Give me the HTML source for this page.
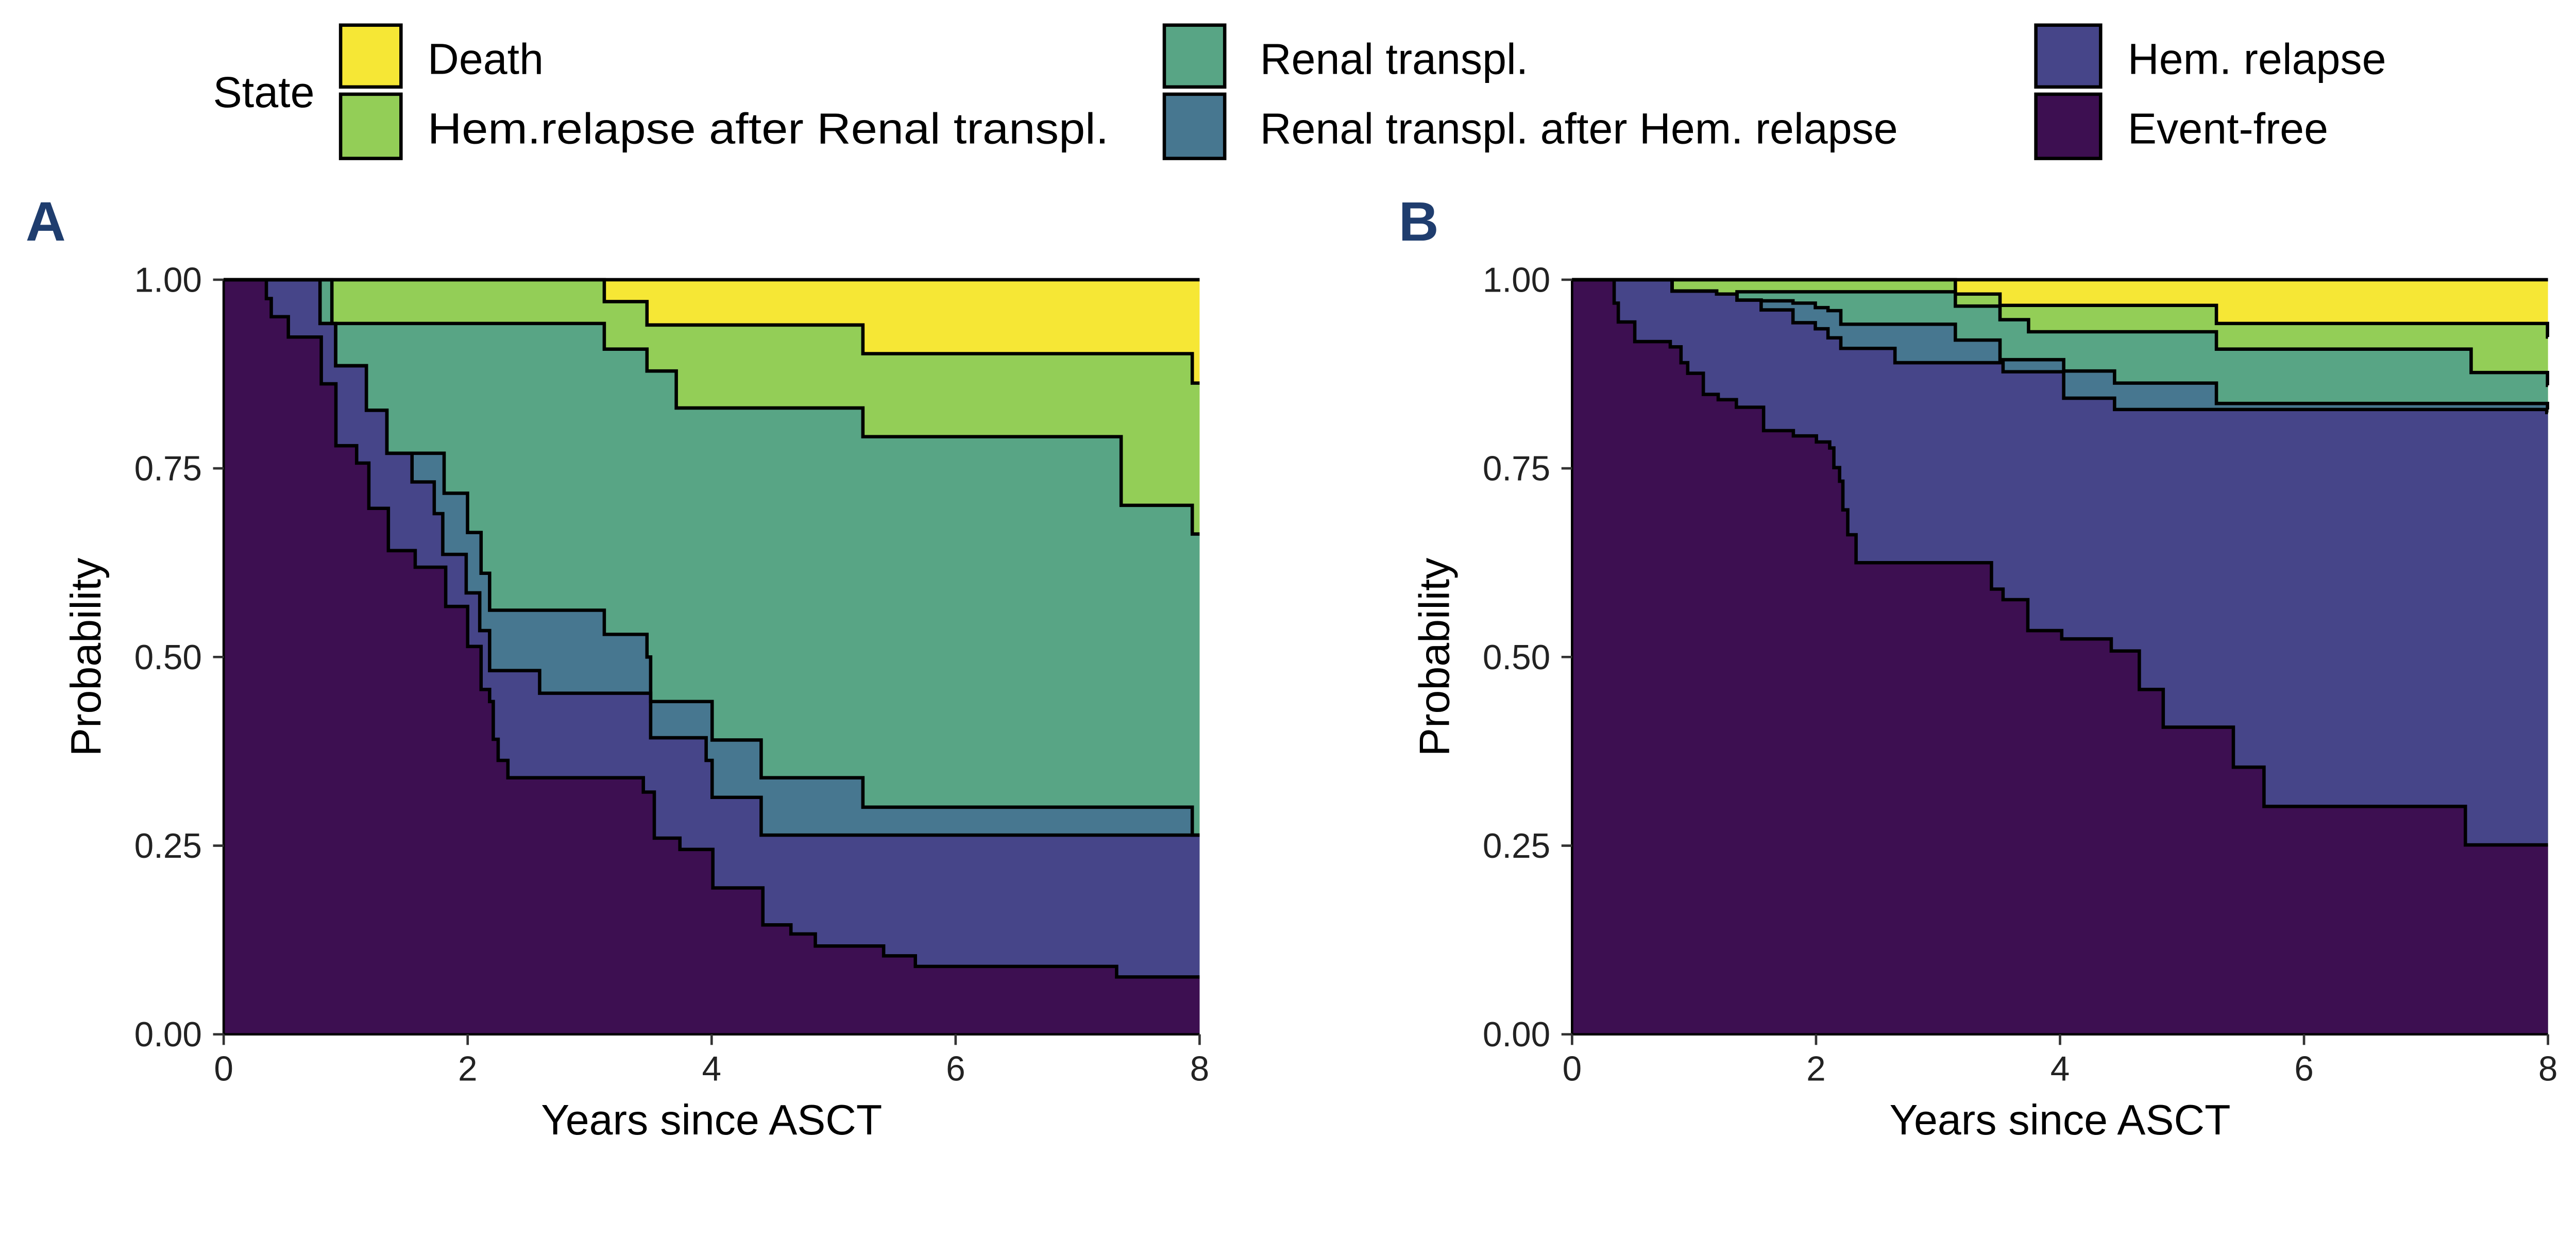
<!DOCTYPE html>
<html><head><meta charset="utf-8"><style>
html,body{margin:0;padding:0;background:#fff;overflow:hidden;}
svg{display:block;width:100vw;height:45.1050vw;}
text{font-family:"Liberation Sans",sans-serif;}
</style></head><body>
<svg id="fig" viewBox="0 0 5332 2405" preserveAspectRatio="xMinYMin meet" xmlns="http://www.w3.org/2000/svg">
<g id="legend">
<text x="441" y="222" font-size="90" fill="#000">State</text>
<g><rect x="705" y="52" width="125" height="128" fill="#f6e735" stroke="#000" stroke-width="7"/><text x="885" y="153" font-size="90">Death</text></g>
<g><rect x="705" y="195" width="125" height="133" fill="#93ce57" stroke="#000" stroke-width="7"/><text x="885" y="297" font-size="90" textLength="1410" lengthAdjust="spacingAndGlyphs">Hem.relapse after Renal transpl.</text></g>
<g><rect x="2410" y="52" width="125" height="128" fill="#58a585" stroke="#000" stroke-width="7"/><text x="2608" y="153" font-size="90">Renal transpl.</text></g>
<g><rect x="2410" y="195" width="125" height="133" fill="#477790" stroke="#000" stroke-width="7"/><text x="2608" y="297" font-size="90">Renal transpl. after Hem. relapse</text></g>
<g><rect x="4214" y="52" width="134" height="128" fill="#464589" stroke="#000" stroke-width="7"/><text x="4404" y="153" font-size="90">Hem. relapse</text></g>
<g><rect x="4214" y="195" width="134" height="133" fill="#3d0f51" stroke="#000" stroke-width="7"/><text x="4404" y="297" font-size="90">Event-free</text></g>
</g>
</svg>
<script>
// Panel A cumulative stacked boundaries (step functions: times & probabilities)
const A_t1 = [0,0.35,0.39,0.53,0.80,0.92,1.09,1.19,1.35,1.57,1.82,2.0,2.11,2.18,2.21,2.25,2.33,3.44,3.53,3.74,4.01,4.42,4.65,4.85,5.41,5.67,7.32];
const A_p1 = [1,0.975,0.951,0.924,0.862,0.78,0.757,0.697,0.641,0.619,0.567,0.514,0.457,0.441,0.391,0.363,0.34,0.321,0.26,0.245,0.194,0.145,0.133,0.117,0.104,0.09,0.076];
const A_t2 = [0,0.79,0.918,1.17,1.338,1.544,1.726,1.796,1.988,2.099,2.18,2.59,3.50,3.955,4.004,4.406];
const A_p2 = [1,0.942,0.886,0.827,0.770,0.732,0.690,0.636,0.585,0.535,0.482,0.452,0.393,0.363,0.314,0.264];
const A_t3 = [0,0.79,0.918,1.17,1.338,1.807,1.999,2.11,2.18,3.12,3.47,3.50,4.004,4.406,5.24,7.94];
const A_p3 = [1,0.942,0.886,0.827,0.770,0.717,0.665,0.611,0.562,0.530,0.500,0.441,0.390,0.340,0.301,0.264];
const A_t4 = [0,0.887,3.12,3.47,3.71,5.24,7.357,7.94];
const A_p4 = [1,0.942,0.908,0.879,0.830,0.792,0.701,0.663];
const A_t5 = [0,3.12,3.47,5.24,7.94];
const A_p5 = [1,0.971,0.940,0.902,0.863];
// Panel B
const B_t1 = [0,0.345,0.379,0.514,0.805,0.893,0.948,1.076,1.198,1.347,1.570,1.814,2.003,2.112,2.146,2.193,2.220,2.260,2.328,3.438,3.533,3.736,4.014,4.420,4.650,4.846,5.421,5.672,7.323];
const B_p1 = [1,0.969,0.944,0.918,0.911,0.890,0.876,0.848,0.841,0.831,0.800,0.793,0.785,0.777,0.751,0.733,0.695,0.662,0.625,0.590,0.576,0.535,0.524,0.508,0.457,0.407,0.354,0.302,0.251];
const B_t2 = [0,0.82,1.185,1.352,1.55,1.811,1.994,2.098,2.203,2.647,3.533,4.03,4.447,7.99];
const B_p2 = [1,0.985,0.981,0.973,0.960,0.943,0.935,0.923,0.909,0.890,0.878,0.843,0.828,0.824];
const B_t3 = [0,0.82,1.185,1.352,1.55,1.811,1.994,2.098,2.203,3.142,3.508,4.03,4.447,5.282,7.996];
const B_p3 = [1,0.985,0.981,0.973,0.972,0.969,0.963,0.959,0.941,0.920,0.894,0.879,0.863,0.836,0.828];
const B_t4 = [0,0.82,1.185,1.352,3.142,3.508,3.742,5.282,7.37,7.996];
const B_p4 = [1,0.985,0.981,0.984,0.965,0.947,0.931,0.908,0.877,0.860];
const B_t5 = [0,3.142,3.508,5.282,7.996];
const B_p5 = [1,0.981,0.966,0.942,0.924];
const xTicks = [0,2,4,6,8];
const yTicks = [0,0.25,0.5,0.75,1];
const yTickLabels = ["0.00","0.25","0.50","0.75","1.00"];
const stateNames = ["event-free","hem-relapse","renal-after-hem-relapse","renal-transpl","hem-relapse-after-renal","death"];
const colors = ["#3d0f51","#464589","#477790","#58a585","#93ce57","#f6e735"];

const NS = "http://www.w3.org/2000/svg";
const svg = document.getElementById('fig');
function mk(tag, attrs, parent){const e=document.createElementNS(NS,tag);for(const k in attrs)e.setAttribute(k,attrs[k]);(parent||svg).appendChild(e);return e;}

function panel(letter, x0, x1, labelX, layers){
  const y0=2141, y1=579;
  const X = t => x0 + (t/8)*(x1-x0);
  const Y = p => y0 - p*(y0-y1);
  const g = mk('g',{});
  
  
  const lab = mk('text',{x:labelX,y:498,'font-size':115,'font-weight':'bold',fill:'#1f3d6e'},g);
  lab.textContent = letter;
  
  
  function stepD(ts, ps){
    let d = 'M'+X(0)+' '+Y(ps[0]);
    for(let i=1;i<ts.length;i++){ d += ' H'+X(ts[i])+' V'+Y(ps[i]); }
    d += ' H'+X(8);
    return d;
  }
  for(let k=layers.length-1;k>=0;k--){
    const L = layers[k];
    const p = mk('path',{d: stepD(L[0],L[1])+' V'+Y(0)+' H'+X(0)+' Z', fill: colors[k]}, g);
    
    
  }
  for(let k=0;k<layers.length;k++){
    const L = layers[k];
    const p = mk('path',{d: stepD(L[0],L[1]), fill:'none', stroke:'#000','stroke-width':7}, g);
    
    
  }
  const ax = mk('path',{d:'M'+X(0)+' '+Y(1)+' V'+Y(0)+' H'+X(8), fill:'none', stroke:'#000','stroke-width':5},g);
  
  
  yTicks.forEach((v,i)=>{
    mk('line',{x1:X(0)-22,x2:X(0),y1:Y(v),y2:Y(v),stroke:'#333','stroke-width':5},g);
    const t = mk('text',{x:X(0)-45,y:Y(v)+25,'font-size':72,'text-anchor':'end',fill:'#222'},g);
    t.textContent = yTickLabels[i];
    
    
  });
  xTicks.forEach(v=>{
    mk('line',{x1:X(v),x2:X(v),y1:Y(0),y2:Y(0)+22,stroke:'#333','stroke-width':5},g);
    const t = mk('text',{x:X(v),y:2237,'font-size':72,'text-anchor':'middle',fill:'#222'},g);
    t.textContent = String(v);
    
    
  });
  const xt = mk('text',{x:(X(0)+X(8))/2,y:2348,'font-size':88,'text-anchor':'middle',fill:'#000'},g);
  xt.textContent = 'Years since ASCT';
  
  
  const cx = X(0)-255, cy=(Y(0)+Y(1))/2;
  const yt = mk('text',{x:cx,y:cy,'font-size':88,'text-anchor':'middle',fill:'#000',transform:'rotate(-90 '+cx+' '+cy+')'},g);
  yt.textContent = 'Probability';
  
  
}
panel('A', 463, 2483, 53, [[A_t1,A_p1],[A_t2,A_p2],[A_t3,A_p3],[A_t4,A_p4],[A_t5,A_p5],[[0],[1]]]);
panel('B', 3254, 5274, 2895, [[B_t1,B_p1],[B_t2,B_p2],[B_t3,B_p3],[B_t4,B_p4],[B_t5,B_p5],[[0],[1]]]);
</script>
</body></html>
